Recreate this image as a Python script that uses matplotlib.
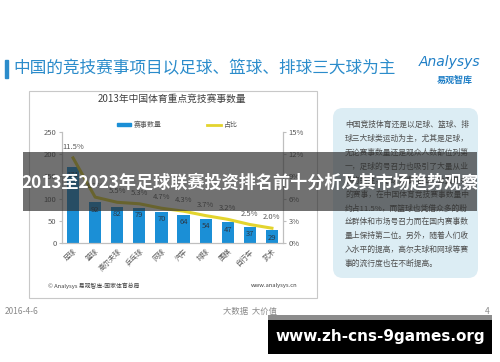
import matplotlib
matplotlib.use("Agg")
import matplotlib.pyplot as plt
from matplotlib.patches import Rectangle, FancyBboxPatch
from matplotlib.lines import Line2D

plt.rcParams["font.family"] = ["Noto Sans CJK SC", "DejaVu Sans"]

# data
sports = ["足球", "篮球", "高尔夫球", "乒乓球", "网球", "汽车", "排球", "围棋", "自行车", "武术"]
counts = [171, 92, 82, 79, 70, 64, 54, 47, 37, 29]
shares = [11.5, 6.2, 5.5, 5.3, 4.7, 4.3, 3.7, 3.2, 2.5, 2.0]
left_ticks = [0, 50, 100, 150, 200, 250]
right_ticks = [0, 3, 6, 9, 12, 15]

panel_lines = [
    "中国竞技体育还是以足球、篮球、排",
    "球三大球类运动为主，尤其是足球，",
    "无论赛事数量还是观众人数都位列第",
    "一，足球的号召力也吸引了大量从业",
    "者的关注，足球赛事是国内数量最多",
    "的赛事，在中国体育竞技赛事数量中",
    "约占11.5%，而篮球也凭借众多的粉",
    "丝群体和市场号召力而在国内赛事数",
    "量上保持第二位。另外，随着人们收",
    "入水平的提高，高尔夫球和网球等赛",
    "事的流行度也在不断提高。",
]

W, H = 500, 362
BLUE = "#1b8fd6"
YELLOW = "#e3d42e"
GRAY = "#595959"


def px(x0, y0, x1, y1):
    return [x0 / W, 1 - y1 / H, (x1 - x0) / W, (y1 - y0) / H]


def pixel_axes(z):
    a = fig.add_axes([0, 0, 1, 1], zorder=z)
    a.set_xlim(0, W)
    a.set_ylim(H, 0)
    a.axis("off")
    a.patch.set_alpha(0)
    return a


fig = plt.figure(figsize=(5, 3.62), dpi=100)
fig.patch.set_facecolor("white")

# ---- slide background layer
bg = pixel_axes(-1)
bg.add_patch(Rectangle((5, 60), 2.5, 18, color="#2b8ccb"))
bg.text(13, 69, "中国的竞技赛事项目以足球、篮球、排球三大球为主", fontsize=12,
        color="#2b8ccb", va="center", ha="left")
bg.text(450, 62, "Analysys", fontsize=10, style="italic",
        color="#1f7fc6", ha="center", va="center", family=["DejaVu Sans"])
bg.text(455, 80, "易观智库", fontsize=6.5, fontweight="bold", color="#1f7fc6",
        ha="center", va="center")

bg.add_patch(Rectangle((29, 91), 288, 207, facecolor="white",
                       edgecolor="#c8c8c8", lw=0.8))
bg.text(172, 99, "2013年中国体育重点竞技赛事数量", fontsize=7, color="#404040",
        ha="center", va="center")
bg.add_patch(Rectangle((117, 122.5), 14, 3.5, color=BLUE))
bg.text(134, 124.5, "赛事数量", fontsize=5, color=GRAY, va="center")
bg.add_line(Line2D([207, 221], [124.5, 124.5], color=YELLOW, lw=2))
bg.text(224, 124.5, "占比", fontsize=5, color=GRAY, va="center")
bg.text(48, 286, "© Analysys 易观智库-国家体育总局", fontsize=4.2, color="#404040",
        va="center")
bg.text(297, 286, "www.analysys.cn", fontsize=4.2, color="#404040", va="center",
        ha="right")

r = 10
bg.add_patch(FancyBboxPatch((333 + r, 108 + r), 145 - 2 * r, 170 - 2 * r,
                            boxstyle=f"round,pad={r}", facecolor="#dcedf4",
                            edgecolor="none"))
for i, line in enumerate(panel_lines):
    bg.text(345, 125 + i * 13.9, line, fontsize=5.6, color="#505050", va="center")

bg.text(5, 311, "2016-4-6", fontsize=6, color="#8a8a8a", va="center")
bg.text(223, 311, "大数据  大价值", fontsize=6, color="#8a8a8a", va="center")
bg.text(490, 311, "4", fontsize=6, color="#8a8a8a", va="center", ha="right")

# ---- chart
ax = fig.add_axes(px(62, 132, 283, 243), zorder=1)
ax.patch.set_alpha(0)
x = range(len(sports))
ax.bar(x, counts, width=0.55, color=BLUE, zorder=2)
for i, c in enumerate(counts):
    ax.annotate(str(c), (i, c), xytext=(0, -2.5), textcoords="offset points",
                ha="center", va="top", fontsize=5.5, color="#2a3a4a", zorder=3)
ax.set_xlim(-0.5, len(sports) - 0.5)
ax.set_ylim(0, 250)
ax.set_yticks(left_ticks)
ax.set_xticks(list(x))
ax.set_xticklabels(sports, rotation=45, ha="right", rotation_mode="anchor")
ax.tick_params(axis="x", length=0, labelsize=5, colors=GRAY, pad=3)
ax.tick_params(axis="y", length=2, labelsize=5.5, colors=GRAY, pad=2,
               color="#bfbfbf")
for s in ["left", "right", "bottom"]:
    ax.spines[s].set_color("#bfbfbf")
    ax.spines[s].set_linewidth(0.8)
ax.spines["top"].set_visible(False)

ax2 = ax.twinx()
ax2.plot(list(x), shares, color=YELLOW, lw=2.2, zorder=3)
for i, s in enumerate(shares):
    ax2.annotate(f"{s}%", (i, s), xytext=(0, 5), textcoords="offset points",
                 ha="center", va="bottom", fontsize=5.5, color=GRAY)
ax2.set_ylim(0, 15)
ax2.set_yticks(right_ticks)
ax2.set_yticklabels([f"{t}%" for t in right_ticks])
ax2.tick_params(axis="y", length=2, labelsize=5.5, colors=GRAY, pad=2,
                color="#bfbfbf")
for s in ["left", "right", "bottom"]:
    ax2.spines[s].set_color("#bfbfbf")
    ax2.spines[s].set_linewidth(0.8)
ax2.spines["top"].set_visible(False)

# ---- overlay: banner and watermark
ov = pixel_axes(10)
ov.add_patch(Rectangle((23, 152), 454, 59, facecolor="#2e2e2e", alpha=0.68,
                       edgecolor="none"))
ov.text(250, 182, "2013至2023年足球联赛投资排名前十分析及其市场趋势观察",
        fontsize=12.3, fontweight="bold", color="white", ha="center", va="center")
ov.add_patch(Rectangle((268, 315), 224, 5, facecolor="#8c8c8c", edgecolor="none"))
ov.add_patch(Rectangle((268, 320), 224, 34, facecolor="black", edgecolor="none"))
ov.text(380, 337, "www.zh-cns-9games.org", fontsize=11, fontweight="bold",
        color="white", ha="center", va="center", family=["DejaVu Sans"])

fig.savefig("out.png", dpi=100)
